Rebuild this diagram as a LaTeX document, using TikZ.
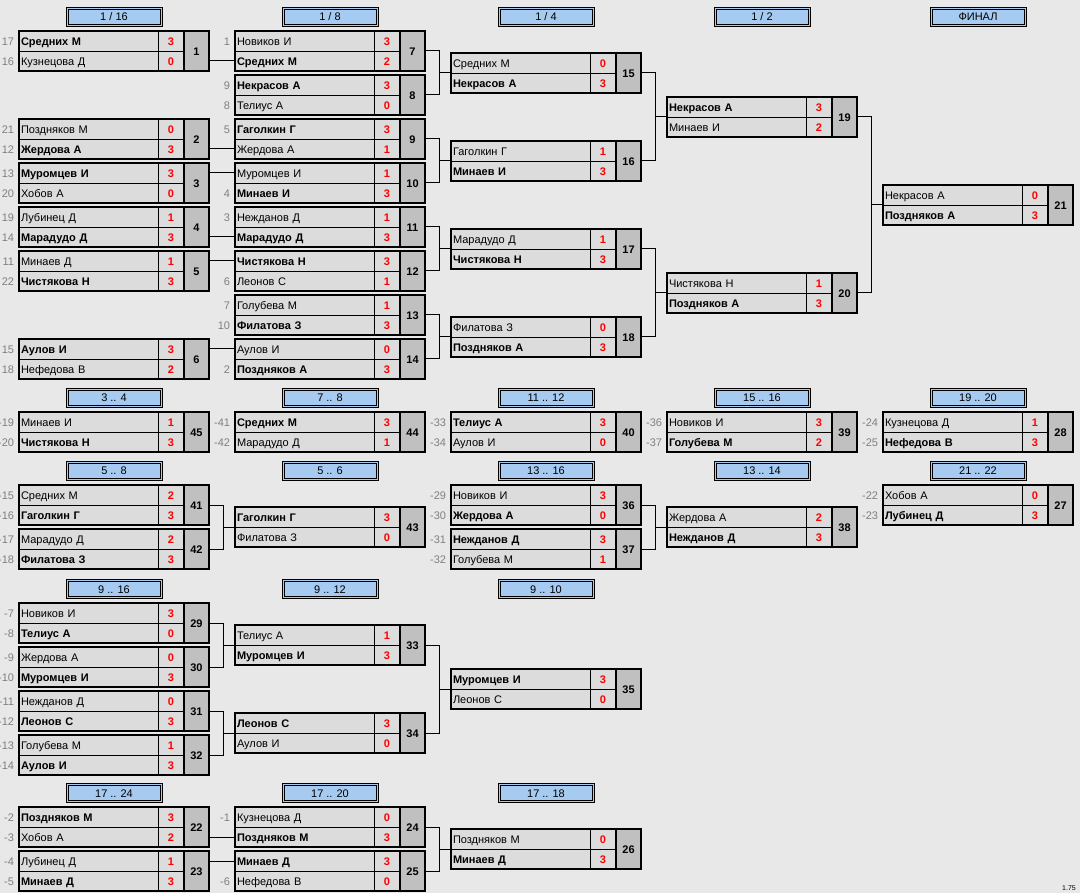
\documentclass[tikz,border=0pt]{standalone}
\usepackage{fontspec}
\setmainfont{Liberation Sans}
\usetikzlibrary{calc}
\definecolor{bgc}{HTML}{E8E8E8}
\definecolor{cellc}{HTML}{DCDCDC}
\definecolor{numc}{HTML}{C0C0C0}
\definecolor{hdrc}{HTML}{A6CAF0}
\definecolor{seedc}{HTML}{808080}
\newcommand{\wn}[1]{\textbf{#1}}
\tikzset{
  cell/.style={draw=black, line width=0.9pt, fill=cellc, inner sep=0pt, outer sep=0pt,
    minimum height=20pt, text height=9.5pt, text depth=0pt, anchor=north west},
  namecell/.style={cell, text width=135pt, inner xsep=2pt, align=left, minimum width=139pt},
  scorecell/.style={cell, minimum width=26pt, text=red, font=\fontsize{11}{13}\selectfont\bfseries},
  numcell/.style={cell, fill=numc, minimum width=25pt, minimum height=40pt, font=\fontsize{11}{13}\selectfont\bfseries},
  frame/.style={line width=2.2pt, line join=miter},
  seed/.style={anchor=east, text=seedc, inner sep=0pt, outer sep=0pt, text height=9.5pt, text depth=0pt},
  hdr/.style={draw=black, line width=0.8pt, fill=hdrc, minimum width=96pt, minimum height=19pt,
    inner sep=0pt, outer sep=0pt, text height=9pt, text depth=0pt, anchor=north},
  conn/.style={line width=1pt},
}
\newcommand{\match}[9]{%
  \node[namecell] (p#1a) at (#2,#3) {#4};
  \node[scorecell] (s#1a) at (#2+139,#3) {#5};
  \node[namecell] (p#1b) at (#2,#3+20) {#6};
  \node[scorecell] (s#1b) at (#2+139,#3+20) {#7};
  \node[numcell] (m#1) at (#2+165,#3) {#1};
  \draw[frame] (p#1a.north west) rectangle (m#1.south east);
  \draw[frame] (m#1.north west) -- (m#1.south west);
  \node[seed] (d#1a) at ($(p#1a.west)+(-5,0)$) {#8};
  \node[seed] (d#1b) at ($(p#1b.west)+(-5,0)$) {#9};
}
\newcommand{\hdr}[4]{%
  \node[hdr] (h#1) at (#2+95,#3) {#4};
  \draw[line width=0.8pt] ([xshift=2pt,yshift=-2pt]h#1.north west) rectangle ([xshift=-2pt,yshift=2pt]h#1.south east);
}
\newcommand{\straight}[2]{\draw[conn] (p#2.west -| m#1.east) -- (p#2.west);}
\newcommand{\brk}[3]{%
  \path (m#1.east) ++(14,0) coordinate (k#3);
  \draw[conn] (m#1.east) -- (k#3) |- (m#2.east);
  \draw[conn] (k#3 |- p#3a.south west) -- (p#3a.south west);
}
\begin{document}
\begin{tikzpicture}[x=1pt,y=-1pt,font=\fontsize{11}{13}\selectfont]
\fill[bgc] (0,0) rectangle (1080,893);
\useasboundingbox (0,0) rectangle (1080,893);
% headers
\hdr{a1}{19}{7}{1 / 16}
\hdr{a2}{235}{7}{1 / 8}
\hdr{a3}{451}{7}{1 / 4}
\hdr{a4}{667}{7}{1 / 2}
\hdr{a5}{883}{7}{ФИНАЛ}
\hdr{b1}{19}{388}{3 .. 4}
\hdr{b2}{235}{388}{7 .. 8}
\hdr{b3}{451}{388}{11 .. 12}
\hdr{b4}{667}{388}{15 .. 16}
\hdr{b5}{883}{388}{19 .. 20}
\hdr{c1}{19}{461}{5 .. 8}
\hdr{c2}{235}{461}{5 .. 6}
\hdr{c3}{451}{461}{13 .. 16}
\hdr{c4}{667}{461}{13 .. 14}
\hdr{c5}{883}{461}{21 .. 22}
\hdr{d1}{19}{579}{9 .. 16}
\hdr{d2}{235}{579}{9 .. 12}
\hdr{d3}{451}{579}{9 .. 10}
\hdr{e1}{19}{783}{17 .. 24}
\hdr{e2}{235}{783}{17 .. 20}
\hdr{e3}{451}{783}{17 .. 18}
% main bracket
\match{1}{19}{31}{\wn{Средних М}}{3}{Кузнецова Д}{0}{17}{16}
\match{2}{19}{119}{Поздняков М}{0}{\wn{Жердова А}}{3}{21}{12}
\match{3}{19}{163}{\wn{Муромцев И}}{3}{Хобов А}{0}{13}{20}
\match{4}{19}{207}{Лубинец Д}{1}{\wn{Марадудо Д}}{3}{19}{14}
\match{5}{19}{251}{Минаев Д}{1}{\wn{Чистякова Н}}{3}{11}{22}
\match{6}{19}{339}{\wn{Аулов И}}{3}{Нефедова В}{2}{15}{18}
\match{7}{235}{31}{Новиков И}{3}{\wn{Средних М}}{2}{1}{}
\match{8}{235}{75}{\wn{Некрасов А}}{3}{Телиус А}{0}{9}{8}
\match{9}{235}{119}{\wn{Гаголкин Г}}{3}{Жердова А}{1}{5}{}
\match{10}{235}{163}{Муромцев И}{1}{\wn{Минаев И}}{3}{}{4}
\match{11}{235}{207}{Нежданов Д}{1}{\wn{Марадудо Д}}{3}{3}{}
\match{12}{235}{251}{\wn{Чистякова Н}}{3}{Леонов С}{1}{}{6}
\match{13}{235}{295}{Голубева М}{1}{\wn{Филатова З}}{3}{7}{10}
\match{14}{235}{339}{Аулов И}{0}{\wn{Поздняков А}}{3}{}{2}
\match{15}{451}{53}{Средних М}{0}{\wn{Некрасов А}}{3}{}{}
\match{16}{451}{141}{Гаголкин Г}{1}{\wn{Минаев И}}{3}{}{}
\match{17}{451}{229}{Марадудо Д}{1}{\wn{Чистякова Н}}{3}{}{}
\match{18}{451}{317}{Филатова З}{0}{\wn{Поздняков А}}{3}{}{}
\match{19}{667}{97}{\wn{Некрасов А}}{3}{Минаев И}{2}{}{}
\match{20}{667}{273}{Чистякова Н}{1}{\wn{Поздняков А}}{3}{}{}
\match{21}{883}{185}{Некрасов А}{0}{\wn{Поздняков А}}{3}{}{}
% places 3..4 etc
\match{45}{19}{412}{Минаев И}{1}{\wn{Чистякова Н}}{3}{-19}{-20}
\match{44}{235}{412}{\wn{Средних М}}{3}{Марадудо Д}{1}{-41}{-42}
\match{40}{451}{412}{\wn{Телиус А}}{3}{Аулов И}{0}{-33}{-34}
\match{39}{667}{412}{Новиков И}{3}{\wn{Голубева М}}{2}{-36}{-37}
\match{28}{883}{412}{Кузнецова Д}{1}{\wn{Нефедова В}}{3}{-24}{-25}
\match{41}{19}{485}{Средних М}{2}{\wn{Гаголкин Г}}{3}{-15}{-16}
\match{42}{19}{529}{Марадудо Д}{2}{\wn{Филатова З}}{3}{-17}{-18}
\match{43}{235}{507}{\wn{Гаголкин Г}}{3}{Филатова З}{0}{}{}
\match{36}{451}{485}{Новиков И}{3}{\wn{Жердова А}}{0}{-29}{-30}
\match{37}{451}{529}{\wn{Нежданов Д}}{3}{Голубева М}{1}{-31}{-32}
\match{38}{667}{507}{Жердова А}{2}{\wn{Нежданов Д}}{3}{}{}
\match{27}{883}{485}{Хобов А}{0}{\wn{Лубинец Д}}{3}{-22}{-23}
\match{29}{19}{603}{Новиков И}{3}{\wn{Телиус А}}{0}{-7}{-8}
\match{30}{19}{647}{Жердова А}{0}{\wn{Муромцев И}}{3}{-9}{-10}
\match{31}{19}{691}{Нежданов Д}{0}{\wn{Леонов С}}{3}{-11}{-12}
\match{32}{19}{735}{Голубева М}{1}{\wn{Аулов И}}{3}{-13}{-14}
\match{33}{235}{625}{Телиус А}{1}{\wn{Муромцев И}}{3}{}{}
\match{34}{235}{713}{\wn{Леонов С}}{3}{Аулов И}{0}{}{}
\match{35}{451}{669}{\wn{Муромцев И}}{3}{Леонов С}{0}{}{}
\match{22}{19}{807}{\wn{Поздняков М}}{3}{Хобов А}{2}{-2}{-3}
\match{23}{19}{851}{Лубинец Д}{1}{\wn{Минаев Д}}{3}{-4}{-5}
\match{24}{235}{807}{Кузнецова Д}{0}{\wn{Поздняков М}}{3}{-1}{}
\match{25}{235}{851}{\wn{Минаев Д}}{3}{Нефедова В}{0}{}{-6}
\match{26}{451}{829}{Поздняков М}{0}{\wn{Минаев Д}}{3}{}{}
% connectors
\straight{1}{7b}
\straight{2}{9b}
\straight{3}{10a}
\straight{4}{11b}
\straight{5}{12a}
\straight{6}{14a}
\straight{22}{24b}
\straight{23}{25a}
\brk{7}{8}{15}
\brk{9}{10}{16}
\brk{11}{12}{17}
\brk{13}{14}{18}
\brk{15}{16}{19}
\brk{17}{18}{20}
\brk{19}{20}{21}
\brk{41}{42}{43}
\brk{36}{37}{38}
\brk{29}{30}{33}
\brk{31}{32}{34}
\brk{33}{34}{35}
\brk{24}{25}{26}
\node[anchor=base east, inner sep=0pt, font=\fontsize{7}{8}\selectfont] (ver) at (1076,890) {1.75};
\end{tikzpicture}
\end{document}
